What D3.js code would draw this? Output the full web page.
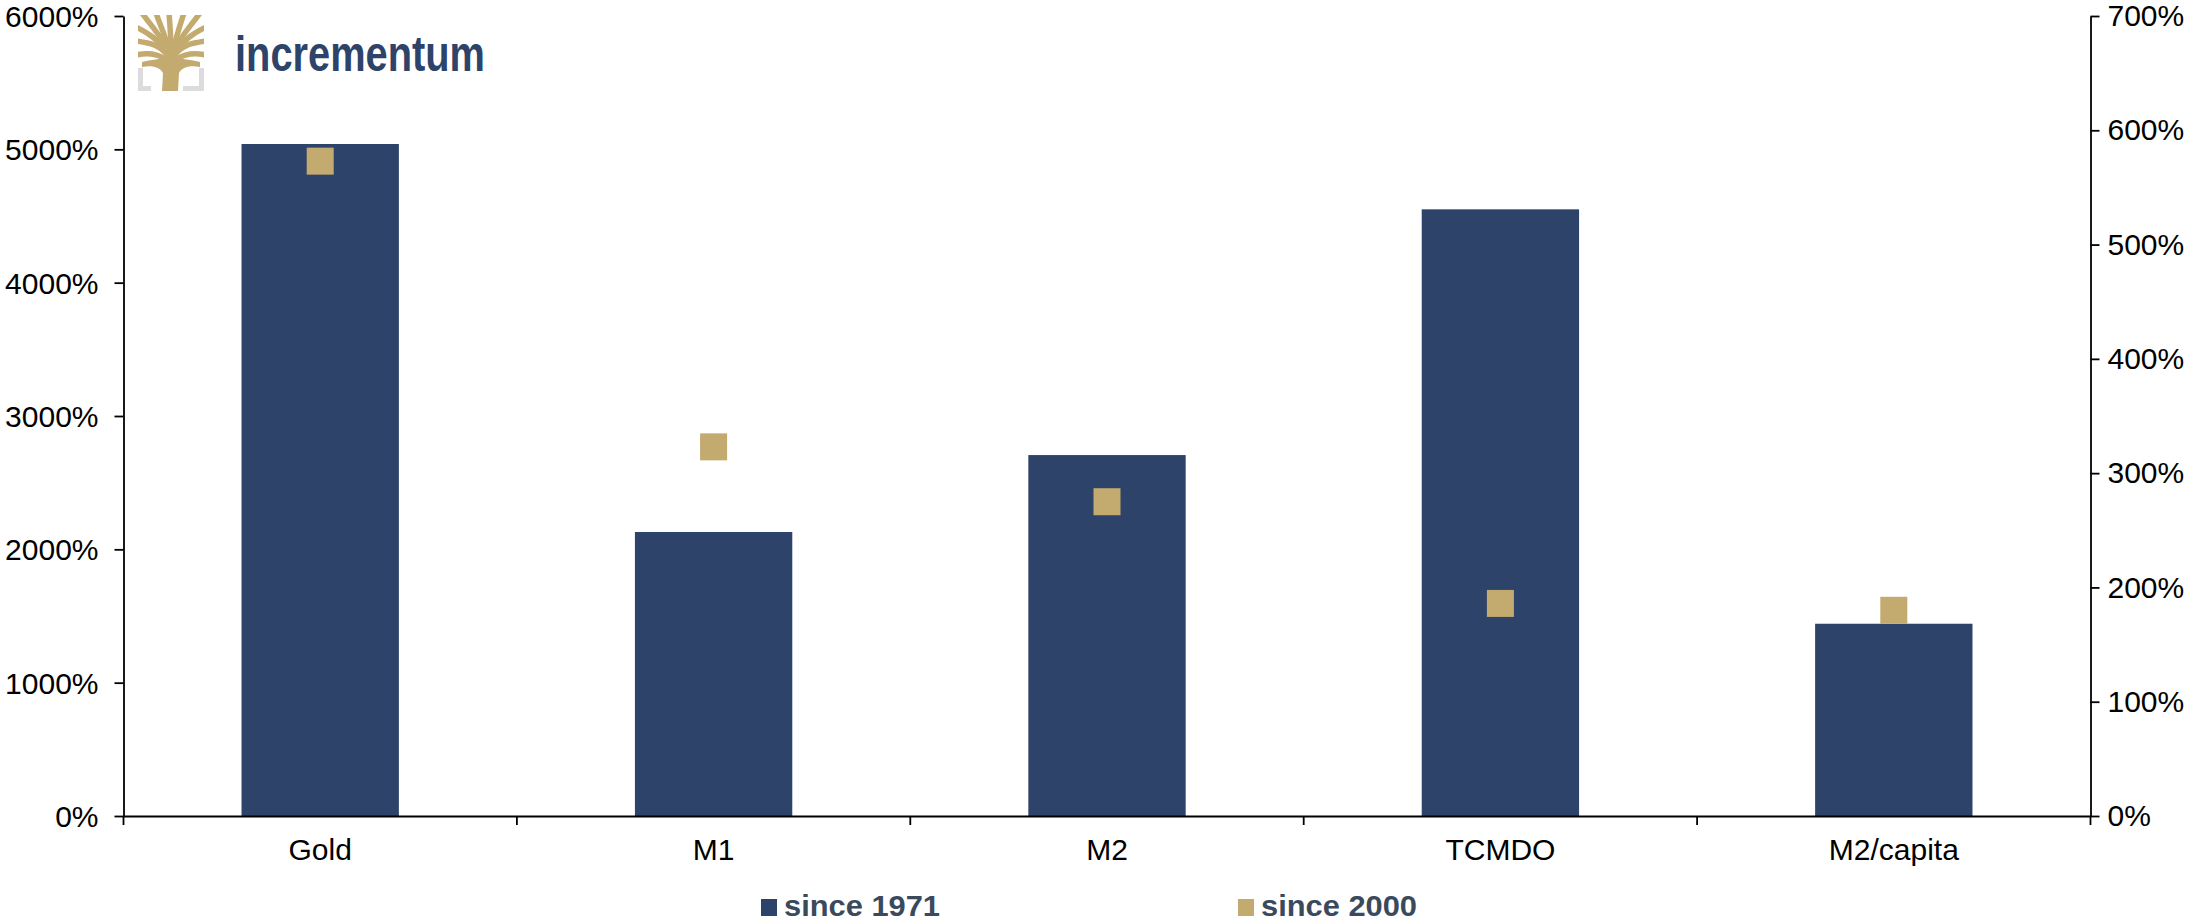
<!DOCTYPE html>
<html>
<head>
<meta charset="utf-8">
<script src="https://cdn.jsdelivr.net/npm/d3@7"></script>
<style>
  html, body { margin: 0; padding: 0; background: #fff; }
  svg text { font-family: "Liberation Sans", Arial, sans-serif; }
</style>
</head>
<body>
<div id="chart"></div>
<script>
// growth since 1971 (left axis) vs since 2000 (right axis)
const categories = ["Gold", "M1", "M2", "TCMDO", "M2/capita"];
const since1971 = [5040, 2130, 2707, 4550, 1442];
const since2000 = [573, 323, 275, 186, 180];
const leftTicks = [0, 1000, 2000, 3000, 4000, 5000, 6000];
const rightTicks = [0, 100, 200, 300, 400, 500, 600, 700];
const seriesNames = ["since 1971", "since 2000"];

const W = 2195, H = 922;
const NAVY = "#2e4369", GOLD = "#c3aa6e";
const plot = { left: 123.5, right: 2090.5, top: 16, bottom: 816 };

const svg = d3.select("#chart").append("svg")
  .attr("width", W).attr("height", H);

// ---- Scales ----
const x = d3.scaleBand()
  .domain(categories)
  .range([plot.left, plot.right])
  .paddingInner(0.6)
  .paddingOuter(0.3);
const yL = d3.scaleLinear().domain([0, 6000]).range([plot.bottom, plot.top]);
const yR = d3.scaleLinear().domain([0, 700]).range([plot.bottom, plot.top]);

// ---- Bars ----
svg.append("g").selectAll("rect")
  .data(categories)
  .join("rect")
  .attr("x", d => x(d))
  .attr("width", x.bandwidth())
  .attr("y", (d, i) => yL(since1971[i]))
  .attr("height", (d, i) => yL(0) - yL(since1971[i]))
  .attr("fill", NAVY);

// ---- Markers ----
const mk = 27;
svg.append("g").selectAll("rect")
  .data(categories)
  .join("rect")
  .attr("x", d => x(d) + x.bandwidth() / 2 - mk / 2)
  .attr("y", (d, i) => yR(since2000[i]) - mk / 2)
  .attr("width", mk).attr("height", mk)
  .attr("fill", GOLD);

// ---- Axes ----
function styleAxis(g) {
  g.selectAll("path, line").attr("stroke", "#000").attr("stroke-width", 1.8);
  g.selectAll("text").attr("fill", "#000").style("font-size", "30px");
}

svg.append("g")
  .attr("transform", `translate(${plot.left},0)`)
  .call(d3.axisLeft(yL).tickValues(leftTicks).tickFormat(d => d + "%")
    .tickSize(9).tickSizeOuter(0).tickPadding(16))
  .call(styleAxis)
  .call(g => g.selectAll("text").attr("dy", "0.35em"));

svg.append("g")
  .attr("transform", `translate(${plot.right},0)`)
  .call(d3.axisRight(yR).tickValues(rightTicks).tickFormat(d => d + "%")
    .tickSize(9).tickSizeOuter(0).tickPadding(8))
  .call(styleAxis);

const xAxis = svg.append("g")
  .attr("transform", `translate(0,${plot.bottom})`)
  .call(d3.axisBottom(x).tickSize(0).tickSizeOuter(0).tickPadding(23))
  .call(styleAxis);

// category ticks sit on the band boundaries, Excel style
const bounds = d3.range(categories.length + 1).map(i => plot.left + i * x.step());
xAxis.selectAll("line.cat")
  .data(bounds)
  .join("line")
  .attr("class", "cat")
  .attr("x1", d => d).attr("x2", d => d)
  .attr("y1", 0).attr("y2", 9)
  .attr("stroke", "#000").attr("stroke-width", 1.8);

// ---- Legend ----
const legendX = [761, 1238];
const legend = svg.append("g").selectAll("g")
  .data(seriesNames)
  .join("g")
  .attr("transform", (d, i) => `translate(${legendX[i]},899)`);
legend.append("rect")
  .attr("width", 16).attr("height", 17)
  .attr("fill", (d, i) => i === 0 ? NAVY : GOLD);
legend.append("text")
  .attr("x", 23).attr("y", 17)
  .attr("textLength", 156).attr("lengthAdjust", "spacingAndGlyphs")
  .style("font-size", "29px").style("font-weight", "700")
  .attr("fill", "#3a4a5c")
  .text(d => d);

// ---- Logo ----
const logo = svg.append("g").attr("transform", "translate(138,15)");
const defs = svg.append("defs");
defs.append("clipPath").attr("id", "treeClip")
  .append("rect").attr("width", 66).attr("height", 76);

// grey corner brackets
logo.append("g").attr("fill", "#dcdcdf").selectAll("rect")
  .data([[0, 53, 5, 23], [0, 71, 13, 5], [61, 53, 5, 23], [45, 71, 21, 5]])
  .join("rect")
  .attr("x", d => d[0]).attr("y", d => d[1])
  .attr("width", d => d[2]).attr("height", d => d[3]);

const tree = logo.append("g").attr("clip-path", "url(#treeClip)");
// trunk
tree.append("path")
  .attr("d", "M24,76 L25,58 C22,52 14,50 4,52 L4,47 C16,44 25,45 28,40 L30,34 L36,34 L38,40 C41,45 50,44 62,47 L62,52 C52,50 44,52 41,58 L40,76 Z")
  .attr("fill", GOLD);
// branches
const branches = [
  "M29,40 C22,30 12,28 -2,26",
  "M29,38 C20,24 10,18 -2,12",
  "M30,36 C24,22 14,12 4,-2",
  "M31,36 C28,22 22,10 18,-2",
  "M33,36 C33,22 32,10 31,-2",
  "M35,36 C38,22 42,10 46,-2",
  "M36,36 C42,22 52,12 62,-2",
  "M37,38 C46,24 56,18 68,12",
  "M37,40 C44,30 54,28 68,26",
  "M27,44 C18,38 8,38 -2,40",
  "M39,44 C48,38 58,38 68,40"
];
tree.append("g").selectAll("path")
  .data(branches)
  .join("path")
  .attr("d", d => d)
  .attr("fill", "none")
  .attr("stroke", GOLD)
  .attr("stroke-width", 5.5)
  .attr("stroke-linecap", "round");

svg.append("text")
  .attr("x", 235).attr("y", 71)
  .attr("textLength", 250).attr("lengthAdjust", "spacingAndGlyphs")
  .style("font-size", "50px").style("font-weight", "700")
  .attr("fill", NAVY)
  .text("incrementum");
</script>
</body>
</html>
